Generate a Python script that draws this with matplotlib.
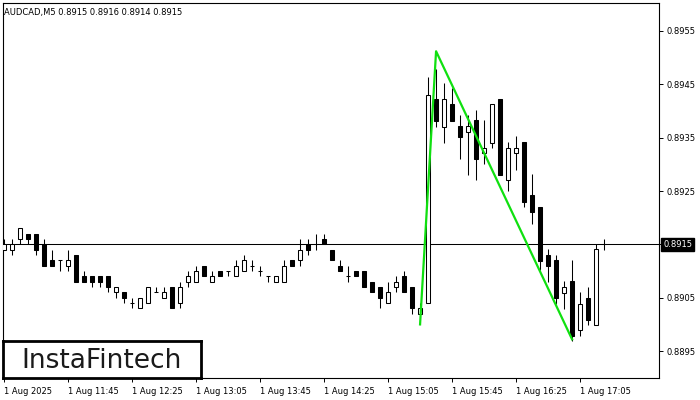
import numpy as np
import matplotlib
matplotlib.use("Agg")
import matplotlib.pyplot as plt
from matplotlib.patches import Rectangle
from matplotlib.transforms import blended_transform_factory


# AUDCAD M5 candles, 1 Aug 2025 11:05 .. 17:20
OPEN = [0.8914, 0.8914, 0.8916, 0.8917, 0.8917, 0.8915, 0.8912, 0.8912, 0.8911, 0.8913,
        0.8909, 0.8909, 0.8909, 0.8909, 0.8906, 0.8906, 0.8904, 0.8903, 0.8904, 0.8906,
        0.8905, 0.8907, 0.8904, 0.8908, 0.8908, 0.8911, 0.8908, 0.8910, 0.8910, 0.8909,
        0.8910, 0.8911, 0.8910, 0.8909, 0.8908, 0.8908, 0.8912, 0.8912, 0.8915, 0.8915,
        0.8916, 0.8914, 0.8911, 0.8909, 0.8910, 0.8910, 0.8908, 0.8907, 0.8904, 0.8907,
        0.8909, 0.8907, 0.8902, 0.8904, 0.89422, 0.8937, 0.89413, 0.89371, 0.89361, 0.89383,
        0.89321, 0.8934, 0.89422, 0.89271, 0.89321, 0.89342, 0.89242, 0.89221, 0.89131, 0.8912,
        0.89059, 0.89081, 0.88989, 0.8905, 0.88999, 0.8915]
HIGH = [0.8916, 0.8916, 0.8918, 0.8917, 0.8917, 0.8916, 0.8914, 0.8912, 0.8914, 0.8913,
        0.8910, 0.8909, 0.8909, 0.8909, 0.8907, 0.8906, 0.8905, 0.8905, 0.8907, 0.8907,
        0.8907, 0.8907, 0.8908, 0.8910, 0.8911, 0.8911, 0.8910, 0.8910, 0.8910, 0.8912,
        0.8913, 0.8912, 0.8911, 0.8909, 0.8909, 0.8912, 0.8912, 0.8916, 0.8916, 0.8917,
        0.8917, 0.8914, 0.8912, 0.8911, 0.8910, 0.8910, 0.8908, 0.8907, 0.8908, 0.8909,
        0.8910, 0.8907, 0.8904, 0.89463, 0.89478, 0.89452, 0.89443, 0.89392, 0.89392, 0.89401,
        0.89383, 0.89413, 0.89422, 0.89341, 0.89353, 0.89342, 0.89281, 0.89221, 0.89141, 0.89131,
        0.89081, 0.8912, 0.89061, 0.89071, 0.8915, 0.8916]
LOW = [0.8914, 0.8913, 0.8915, 0.8915, 0.8913, 0.8911, 0.8911, 0.8910, 0.8910, 0.8908,
       0.8908, 0.8907, 0.8907, 0.8906, 0.8905, 0.8904, 0.8903, 0.8903, 0.8904, 0.8906,
       0.8905, 0.8903, 0.8903, 0.8907, 0.8908, 0.8909, 0.8908, 0.8909, 0.8909, 0.8909,
       0.8910, 0.8910, 0.8909, 0.8908, 0.8908, 0.8908, 0.8911, 0.8911, 0.8913, 0.8914,
       0.8915, 0.8912, 0.8910, 0.8908, 0.8909, 0.8907, 0.8906, 0.8903, 0.8904, 0.8906,
       0.8906, 0.8902, 0.8902, 0.8904, 0.8937, 0.8934, 0.89381, 0.8931, 0.8928, 0.8927,
       0.8930, 0.8933, 0.8928, 0.8925, 0.89289, 0.8922, 0.89189, 0.89102, 0.89079, 0.89039,
       0.89028, 0.88969, 0.88978, 0.88998, 0.88999, 0.8914]
CLOSE = [0.8915, 0.8915, 0.8918, 0.8916, 0.8914, 0.8911, 0.8911, 0.8912, 0.8912, 0.8908,
         0.8908, 0.8908, 0.8908, 0.8907, 0.8907, 0.8905, 0.8904, 0.8905, 0.8907, 0.8906,
         0.8906, 0.8903, 0.8907, 0.8909, 0.8910, 0.8909, 0.8909, 0.8909, 0.8910, 0.8911,
         0.8912, 0.8911, 0.8910, 0.8909, 0.8909, 0.8911, 0.8911, 0.8914, 0.8914, 0.8915,
         0.8915, 0.8912, 0.8910, 0.8909, 0.8909, 0.8907, 0.8906, 0.8905, 0.8906, 0.8908,
         0.8906, 0.8903, 0.8903, 0.8943, 0.89381, 0.89422, 0.89381, 0.89351, 0.89371, 0.8931,
         0.89331, 0.89413, 0.8928, 0.89331, 0.89331, 0.89229, 0.89211, 0.89119, 0.89109, 0.89049,
         0.89071, 0.88978, 0.89039, 0.89008, 0.89141, 0.8915]

# pattern line (bar index, price)
PATTERN_X = [52, 54, 71]
PATTERN_Y = [0.8900, 0.89512, 0.88972]

PRICE_TICKS = [0.8895, 0.8905, 0.8915, 0.8925, 0.8935, 0.8945, 0.8955]
TIME_TICKS = [0, 8, 16, 24, 32, 40, 48, 56, 64, 72]
TIME_LABELS = ["1 Aug 2025", "1 Aug 11:45", "1 Aug 12:25", "1 Aug 13:05", "1 Aug 13:45",
               "1 Aug 14:25", "1 Aug 15:05", "1 Aug 15:45", "1 Aug 16:25", "1 Aug 17:05"]
LAST = 0.8915

o = np.array(OPEN); h = np.array(HIGH); l = np.array(LOW); c = np.array(CLOSE)
x = np.arange(len(o))

fig = plt.figure(figsize=(7, 4), dpi=100)
ax = fig.add_axes([2.5 / 700, 1 - 378.3 / 400, 656.8 / 700, 375.6 / 400])
ax.set_xlim(-0.19, 81.9)
ax.set_ylim(0.88899, 0.89603)

lw = 0.75
ax.vlines(x, l, h, color="black", lw=lw, zorder=2)
w = 0.55
for i in x:
    if o[i] == c[i]:
        ax.hlines(o[i], i - w / 2, i + w / 2, color="black", lw=lw, zorder=3)
        continue
    up = c[i] > o[i]
    ax.add_patch(Rectangle((i - w / 2, min(o[i], c[i])), w, abs(c[i] - o[i]),
                           facecolor="white" if up else "black", edgecolor="black",
                           lw=lw, zorder=3))

ax.axhline(LAST, color="black", lw=lw, zorder=1)
ax.plot(PATTERN_X, PATTERN_Y, color="#10e010", lw=1.6, zorder=4)

ax.yaxis.tick_right()
ax.set_yticks(PRICE_TICKS)
ax.set_yticklabels(["" if abs(p - LAST) < 1e-9 else f"{p:.4f}" for p in PRICE_TICKS])
ax.tick_params(axis="y", length=3, width=0.7, pad=2, labelsize=6, colors="black")
ax.set_xticks(TIME_TICKS)
ax.set_xticklabels(TIME_LABELS, ha="left")
ax.tick_params(axis="x", length=3, width=0.7, pad=3, labelsize=6)
for s in ax.spines.values():
    s.set_linewidth(0.8)

tr = blended_transform_factory(ax.transAxes, ax.transData)
ax.text(1.006, LAST, f"{LAST:.4f}", transform=tr, ha="left", va="center", fontsize=6,
        color="white", clip_on=False, zorder=10,
        bbox=dict(boxstyle="square,pad=0.25", fc="black", ec="black"))

ax.text(0.003, 0.985, "AUDCAD,M5 0.8915 0.8916 0.8914 0.8915", transform=ax.transAxes,
        ha="left", va="top", fontsize=6)

# logo box
logo = fig.add_axes([3 / 700, 1 - 378 / 400, 198 / 700, 37 / 400])
logo.set_xticks([]); logo.set_yticks([])
for s in logo.spines.values():
    s.set_linewidth(2)
logo.text(0.5, 0.47, "InstaFintech", ha="center", va="center", fontsize=19,
          color="#1a1a1a", transform=logo.transAxes)

fig.savefig("out.png", dpi=100)
